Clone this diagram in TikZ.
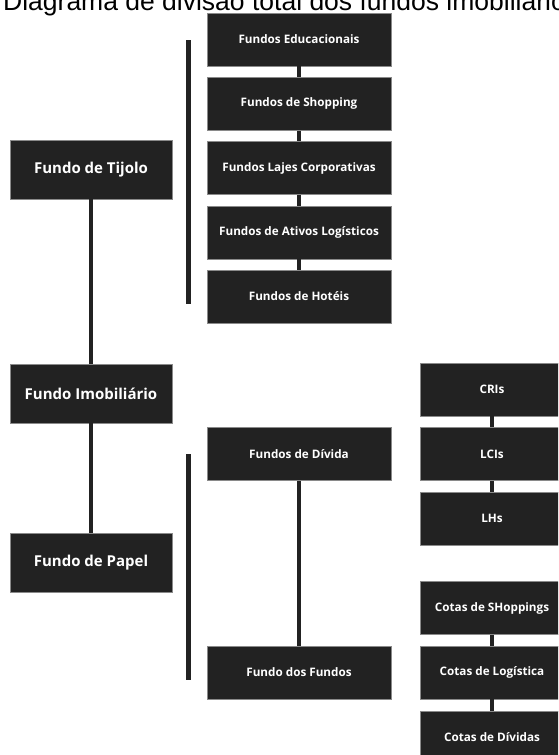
\documentclass[tikz,border=0pt]{standalone}
\usepackage{fontspec}
\setmainfont{Open Sans}
\newfontfamily\titlefont{Liberation Sans}
\definecolor{boxfill}{HTML}{222222}
\definecolor{boxedge}{HTML}{8A8A8A}
\begin{document}
\begin{tikzpicture}[x=1pt,y=-1pt,
  box/.style={rectangle, fill=boxfill, draw=boxedge, line width=0.5pt, text=white,
    inner sep=0pt, font=\bfseries\fontsize{11.7}{14}\selectfont},
  midbox/.style={box, minimum width=184, minimum height=53},
  rightbox/.style={box, minimum width=144, minimum height=53},
  bigbox/.style={box, minimum width=162, minimum height=59, font=\bfseries\fontsize{15}{18}\selectfont},
  link/.style={draw=boxfill, line width=4.5pt, line cap=butt},
  bar/.style={draw=boxfill, line width=5pt, line cap=butt}]
\clip (0,0) rectangle (558,755);
\fill[white] (0,0) rectangle (558,755);

% title
\node[anchor=base west, inner sep=0pt, font=\titlefont\fontsize{26.5}{30}\selectfont] (title) at (3,10) {Diagrama de divisão total dos fundos imobiliários};

% left column
\node[bigbox] (tijolo) at (91,169.5) {Fundo de Tijolo};
\node[bigbox] (imob) at (91,393.5) {Fundo Imobiliário};
\node[bigbox] (papel) at (91,563) {Fundo de Papel};

% middle column (tijolo)
\node[midbox] (edu) at (299,39.5) {Fundos Educacionais};
\node[midbox] (shop) at (299,103.75) {Fundos de Shopping};
\node[midbox] (lajes) at (299,168) {Fundos Lajes Corporativas};
\node[midbox] (ativos) at (299,232.25) {Fundos de Ativos Logísticos};
\node[midbox] (hoteis) at (299,296.5) {Fundos de Hotéis};

% middle column (papel)
\node[midbox] (divida) at (299,454) {Fundos de Dívida};
\node[midbox] (fdf) at (299,672.5) {Fundo dos Fundos};

% right column
\node[rightbox] (cri) at (492,389.5) {CRIs};
\node[rightbox] (lci) at (492,454) {LCIs};
\node[rightbox] (lh) at (492,518.5) {LHs};
\node[rightbox] (cotshop) at (492,608) {Cotas de SHoppings};
\node[rightbox] (cotlog) at (492,672.5) {Cotas de Logística};
\node[rightbox] (cotdiv) at (492,737.5) {Cotas de Dívidas};

% grouping bars
\coordinate (b1t) at (188,40);
\coordinate (b1b) at (188,304);
\coordinate (b2t) at (188,454);
\coordinate (b2b) at (188,680);
\draw[bar] (b1t) -- (b1b);
\draw[bar] (b2t) -- (b2b);

% connectors
\draw[link] (tijolo.south) -- (imob.north);
\draw[link] (imob.south) -- (papel.north);
\draw[link] (edu.south) -- (shop.north);
\draw[link] (shop.south) -- (lajes.north);
\draw[link] (lajes.south) -- (ativos.north);
\draw[link] (ativos.south) -- (hoteis.north);
\draw[link] (divida.south) -- (fdf.north);
\draw[link] (cri.south) -- (lci.north);
\draw[link] (lci.south) -- (lh.north);
\draw[link] (cotshop.south) -- (cotlog.north);
\draw[link] (cotlog.south) -- (cotdiv.north);
\end{tikzpicture}
\end{document}
